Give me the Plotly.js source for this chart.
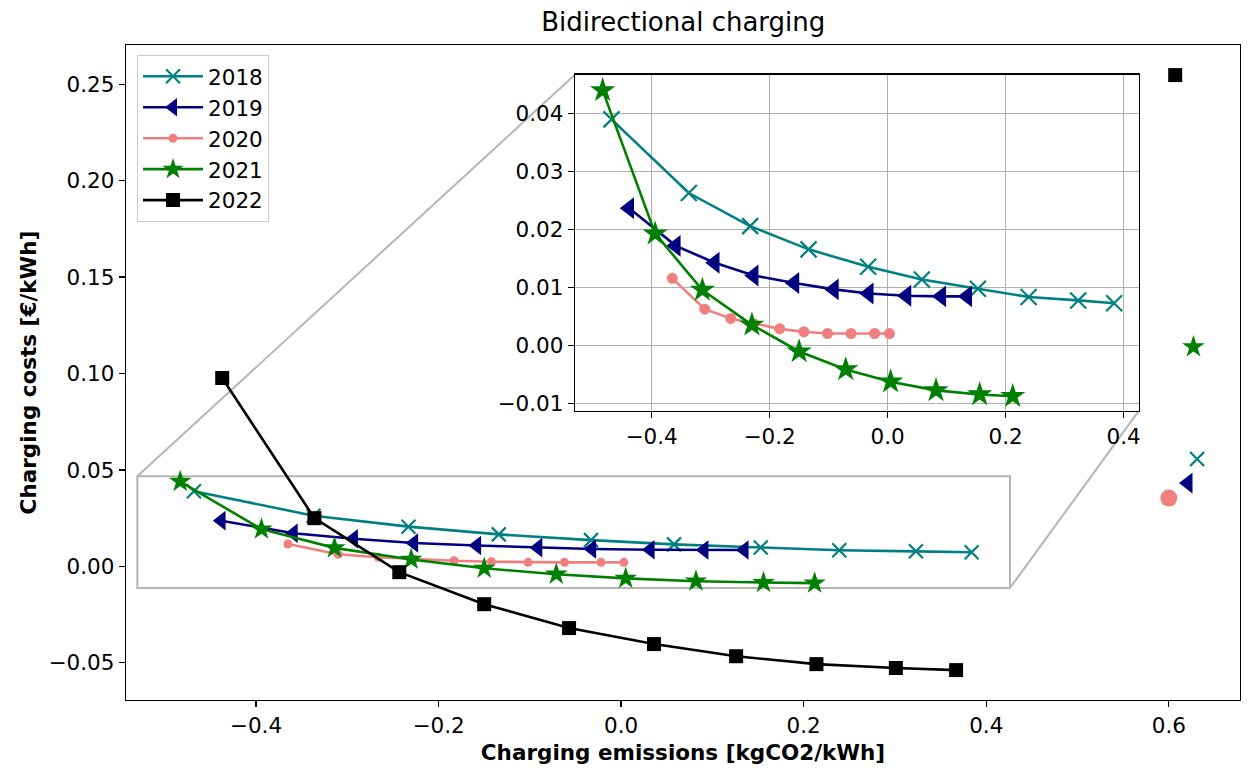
<!DOCTYPE html>
<html>
<head>
<meta charset="utf-8">
<script src="https://cdn.plot.ly/plotly-3.0.1.min.js"></script>
<style>html,body{margin:0;padding:0;background:#fff;}#chart{width:1248px;height:769px;}</style>
</head>
<body>
<div id="chart"></div>
<script>
// ---- data ----
const years = ["2018", "2019", "2020", "2021", "2022"];

const x2018 = [-0.468, -0.337, -0.233, -0.134, -0.033, 0.058, 0.153, 0.239, 0.323, 0.384];
const y2018 = [0.0390, 0.0263, 0.0206, 0.0166, 0.0136, 0.0114, 0.0098, 0.0084, 0.0078, 0.0073];

const x2019 = [-0.438, -0.359, -0.293, -0.227, -0.158, -0.091, -0.032, 0.032, 0.091, 0.135];
const y2019 = [0.0237, 0.0172, 0.0143, 0.0121, 0.0108, 0.0097, 0.0090, 0.0086, 0.0085, 0.0085];

const x2020 = [-0.365, -0.310, -0.266, -0.227, -0.183, -0.142, -0.102, -0.062, -0.022, 0.003];
const y2020 = [0.0116, 0.0063, 0.0047, 0.0038, 0.0029, 0.0024, 0.0021, 0.0021, 0.0021, 0.0021];

const x2021 = [-0.483, -0.394, -0.314, -0.230, -0.150, -0.071, 0.005, 0.082, 0.156, 0.212];
const y2021 = [0.0440, 0.0193, 0.0096, 0.0036, -0.0010, -0.0041, -0.0062, -0.0077, -0.0084, -0.0087];

const x2022 = [-0.437, -0.336, -0.243, -0.150, -0.057, 0.036, 0.126, 0.214, 0.301, 0.367];
const y2022 = [0.0977, 0.0250, -0.0030, -0.0196, -0.0320, -0.0403, -0.0466, -0.0507, -0.0527, -0.0538];

// single reference points at the right edge (one per year)
const singleX = [0.631, 0.621, 0.600, 0.627, 0.607];
const singleY = [0.0557, 0.0432, 0.0354, 0.1138, 0.2548];

const xTicks = [-0.4, -0.2, 0.0, 0.2, 0.4, 0.6];
const yTicks = [-0.05, 0.00, 0.05, 0.10, 0.15, 0.20, 0.25];
const insetXTicks = [-0.4, -0.2, 0.0, 0.2, 0.4];
const insetYTicks = [-0.01, 0.00, 0.01, 0.02, 0.03, 0.04];

// ---- styling ----
const colors = ["#008080", "#000080", "#F08080", "#008000", "#000000"];
const symbols = ["x-thin-open", "triangle-left", "circle", "star", "square"];
const lineSizes = [14, 17, 9, 17, 14];
const insetSizes = [16, 19, 11, 19, 14];
const singleSizes = [14, 18, 17, 17, 14];
const seriesX = [x2018, x2019, x2020, x2021, x2022];
const seriesY = [y2018, y2019, y2020, y2021, y2022];

const X_RANGE = [-0.5424, 0.678];
const Y_RANGE = [-0.0693, 0.2704];
const INSET_X = [-0.53, 0.426];
const INSET_Y = [-0.0112, 0.0467];
const INSET_DOM_X = [0.403, 0.9093];
const INSET_DOM_Y = [0.4417, 0.9547];

const FONT = "DejaVu Sans";
const FS = 21.5;

function markerFor(i, size) {
  const open = symbols[i] === "x-thin-open";
  return {
    symbol: symbols[i],
    size: size,
    color: colors[i],
    line: {color: colors[i], width: open ? 2.2 : 0}
  };
}

const traces = [];
for (let i = 0; i < years.length; i++) {
  traces.push({
    x: seriesX[i], y: seriesY[i], name: years[i],
    type: "scatter", mode: "lines+markers",
    line: {color: colors[i], width: 2.6},
    marker: markerFor(i, lineSizes[i]),
    xaxis: "x", yaxis: "y"
  });
}
for (let i = 0; i < years.length; i++) {
  traces.push({
    x: [singleX[i]], y: [singleY[i]], name: years[i] + " ",
    type: "scatter", mode: "markers", showlegend: false,
    marker: markerFor(i, singleSizes[i]),
    xaxis: "x", yaxis: "y"
  });
}
for (let i = 0; i < 4; i++) {
  traces.push({
    x: seriesX[i], y: seriesY[i], name: years[i],
    type: "scatter", mode: "lines+markers", showlegend: false,
    line: {color: colors[i], width: 2.6},
    marker: markerFor(i, insetSizes[i]),
    xaxis: "x2", yaxis: "y2"
  });
}

function toPaperX(v) { return (v - X_RANGE[0]) / (X_RANGE[1] - X_RANGE[0]); }
function toPaperY(v) { return (v - Y_RANGE[0]) / (Y_RANGE[1] - Y_RANGE[0]); }

const grey = "#b5b5b5";
const shapes = [
  {type: "rect", xref: "x", yref: "y", x0: INSET_X[0], x1: INSET_X[1], y0: INSET_Y[0], y1: INSET_Y[1],
   line: {color: grey, width: 2}, layer: "below"},
  {type: "line", xref: "paper", yref: "paper",
   x0: toPaperX(INSET_X[0]), y0: toPaperY(INSET_Y[1]), x1: INSET_DOM_X[0], y1: INSET_DOM_Y[1],
   line: {color: grey, width: 2}, layer: "below"},
  {type: "line", xref: "paper", yref: "paper",
   x0: toPaperX(INSET_X[1]), y0: toPaperY(INSET_Y[0]), x1: INSET_DOM_X[1], y1: INSET_DOM_Y[0],
   line: {color: grey, width: 2}, layer: "below"}
];

const tickFont = {family: FONT, size: FS, color: "#000"};
const axisCommon = {
  zeroline: false, showline: true, mirror: true, linecolor: "#000", linewidth: 1.3,
  ticks: "outside", ticklen: 6, tickwidth: 1.3, tickcolor: "#000", tickfont: tickFont
};
const layout = {
  width: 1248, height: 769,
  margin: {l: 126, r: 8, t: 45, b: 69},
  paper_bgcolor: "#fff", plot_bgcolor: "#fff",
  font: {family: FONT, color: "#000", size: FS},
  title: {text: "Bidirectional charging", font: {family: FONT, size: 26, color: "#000"},
          x: 0.5475, xanchor: "center", y: 0.972, yanchor: "middle"},
  showlegend: true,
  legend: {x: 0.0099, y: 0.985, xanchor: "left", yanchor: "top", itemwidth: 60,
           bgcolor: "rgba(255,255,255,0.8)", bordercolor: "#cccccc", borderwidth: 1,
           font: {family: FONT, size: FS, color: "#000"}},
  xaxis: Object.assign({domain: [0, 1], range: X_RANGE, tickvals: xTicks, tickformat: ".1f", showgrid: false,
          title: {text: "<b>Charging emissions [kgCO2/kWh]</b>", font: {family: FONT, size: FS, color: "#000"}, standoff: 8}}, axisCommon),
  yaxis: Object.assign({domain: [0, 1], range: Y_RANGE, tickvals: yTicks, tickformat: ".2f", showgrid: false,
          title: {text: "<b>Charging costs [€/kWh]</b>", font: {family: FONT, size: FS, color: "#000"}, standoff: 6}}, axisCommon),
  xaxis2: Object.assign({domain: INSET_DOM_X, anchor: "y2", range: INSET_X, tickvals: insetXTicks, tickformat: ".1f",
           showgrid: true, gridcolor: "#b0b0b0", gridwidth: 1.5}, axisCommon),
  yaxis2: Object.assign({domain: INSET_DOM_Y, anchor: "x2", range: INSET_Y, tickvals: insetYTicks, tickformat: ".2f",
           showgrid: true, gridcolor: "#b0b0b0", gridwidth: 1.5}, axisCommon),
  shapes: shapes
};

Plotly.newPlot("chart", traces, layout, {displayModeBar: false, staticPlot: true});
</script>
</body>
</html>
